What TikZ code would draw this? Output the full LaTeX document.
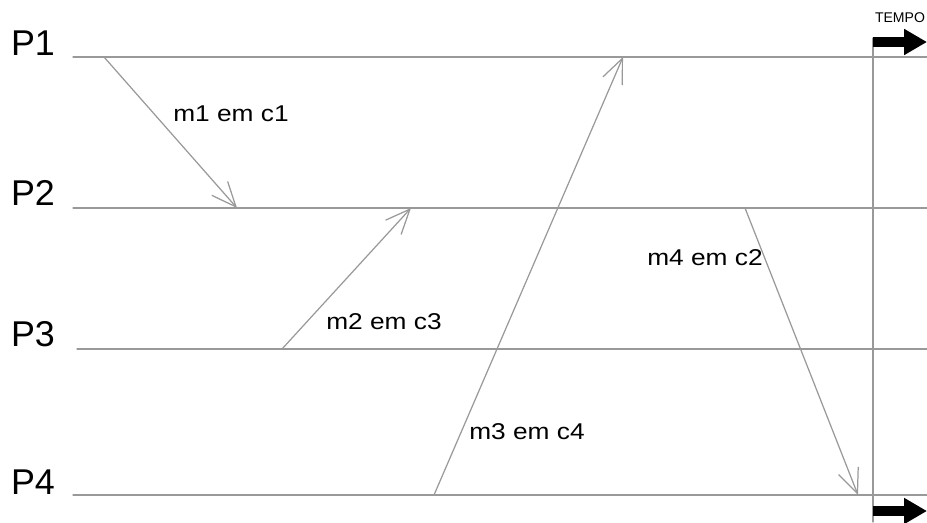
\documentclass[tikz,border=0pt]{standalone}
\usepackage{fontspec}
\setmainfont{Liberation Sans}
\usepackage{tikz}
\usepackage{tkz-euclide}
\usepackage{xcolor}
\usetikzlibrary{arrows.meta}

\definecolor{linegray}{gray}{0.6}

\begin{document}
\begin{tikzpicture}[
    proc/.style={linegray,line width=0.35pt},
    msg/.style={linegray,line width=0.35pt,-{Straight Barb[length=7pt,width=6pt,line width=0.35pt]}},
    time/.style={black,line width=2.8pt,line cap=butt,-{Triangle[length=6.5pt,width=7pt]}},
    plabel/.style={font=\fontsize{10.2}{12}\selectfont},
    mlabel/.style={font=\fontsize{6.5}{8}\selectfont,xscale=1.15}]
    \useasboundingbox (0,0) rectangle (9.27,5.22);
    % process lines
    \tkzDefPoint(0.73,4.65){A1} \tkzDefPoint(9.27,4.65){B1}
    \tkzDefPoint(0.73,3.14){A2} \tkzDefPoint(9.27,3.14){B2}
    \tkzDefPoint(0.77,1.73){A3} \tkzDefPoint(9.27,1.73){B3}
    \tkzDefPoint(0.73,0.27){A4} \tkzDefPoint(9.27,0.27){B4}
    \tkzDrawSegments[proc](A1,B1 A2,B2 A3,B3 A4,B4)
    \tkzDefPoint(8.73,4.84){T} \tkzDefPoint(8.73,0){U}
    \tkzDrawSegment[proc](T,U)
    % messages
    \tkzDefPoint(1.04,4.65){S1} \tkzDefPoint(2.37,3.14){R1}
    \tkzDefPoint(2.82,1.73){S2} \tkzDefPoint(4.11,3.14){R2}
    \tkzDefPoint(4.34,0.27){S3} \tkzDefPoint(6.23,4.65){R3}
    \tkzDefPoint(7.45,3.14){S4} \tkzDefPoint(8.58,0.27){R4}
    \tkzDrawSegments[msg](S1,R1 S2,R2 S3,R3 S4,R4)
    % time arrows
    \tkzDefPoint(8.73,4.80){TA} \tkzDefPoint(9.27,4.80){TB}
    \tkzDefPoint(8.73,0.11){BA} \tkzDefPoint(9.27,0.11){BB}
    \tkzDrawSegments[time](TA,TB BA,BB)
    \node[font=\fontsize{4}{5}\selectfont] (tempo) at (9.00,5.04) {TEMPO};
    % labels
    \node[plabel] (p1) at (0.33,4.79) {P1};
    \node[plabel] (p2) at (0.33,3.29) {P2};
    \node[plabel] (p3) at (0.33,1.88) {P3};
    \node[plabel] (p4) at (0.33,0.40) {P4};
    \node[mlabel] (m1) at (2.31,4.08) {m1 em c1};
    \node[mlabel] (m2) at (3.84,2.00) {m2 em c3};
    \node[mlabel] (m3) at (5.27,0.90) {m3 em c4};
    \node[mlabel] (m4) at (7.05,2.64) {m4 em c2};
\end{tikzpicture}
\end{document}
